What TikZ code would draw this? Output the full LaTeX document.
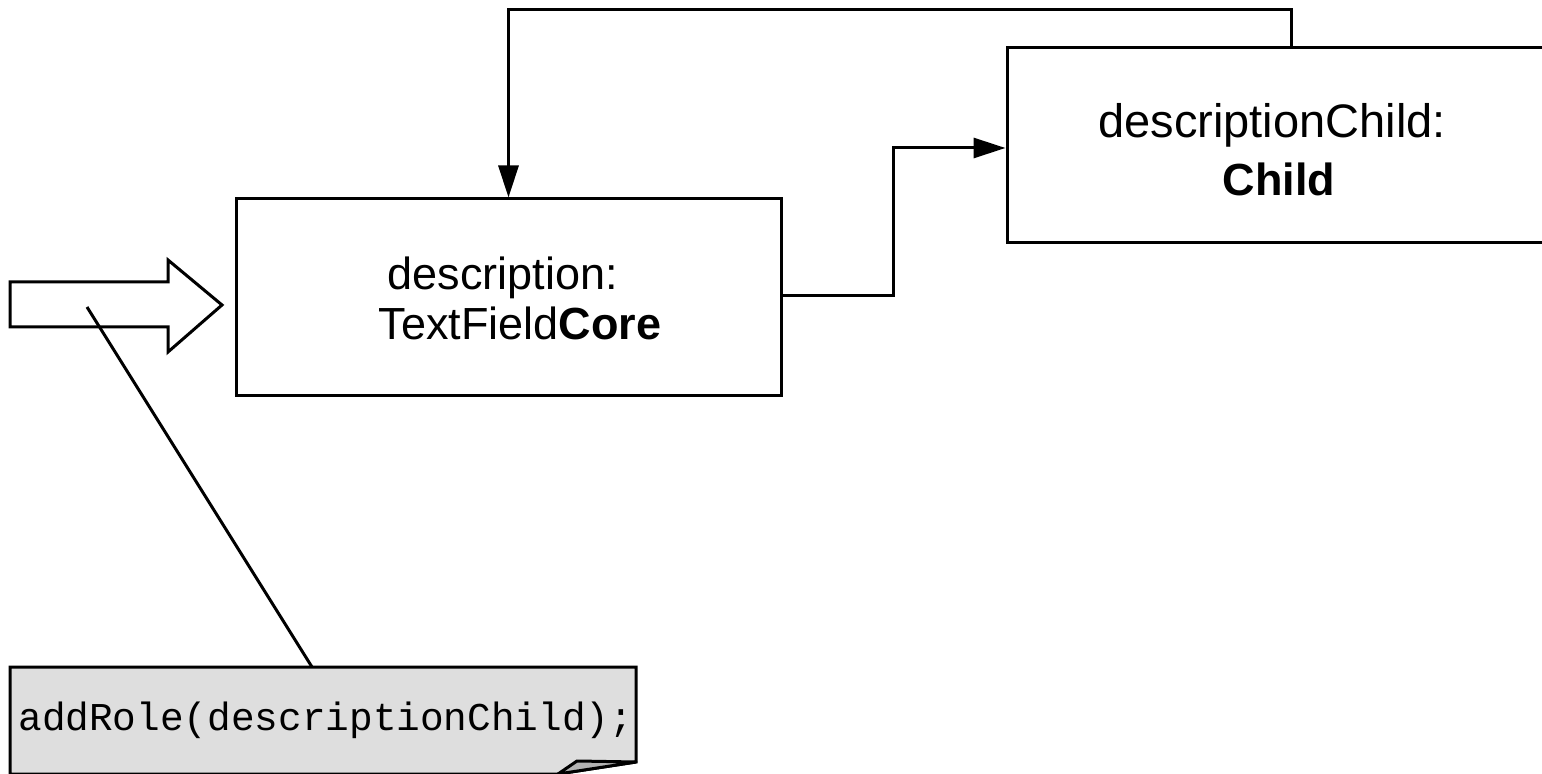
\documentclass[tikz,border=0pt]{standalone}
\usepackage{fontspec}
\setmainfont{Liberation Sans}
\newfontfamily\codefont{Liberation Mono}
\usetikzlibrary{arrows.meta}
\tikzset{
  ln/.style={line width=1.5pt, draw=black},
  boxnode/.style={ln, rectangle, inner sep=0pt},
  lbl/.style={font=\fontsize{22.5}{27}\selectfont, anchor=base, inner sep=0pt},
  arr/.style={ln, -{Triangle[length=16pt,width=10pt]}},
  notefill/.style={fill=black!13},
}
\begin{document}
\begin{tikzpicture}[x=0.5pt,y=-0.5pt]
\useasboundingbox (0,0) rectangle (1542,774);
\clip (0,0) rectangle (1542,774);
% boxes
\node[boxnode, minimum width=272.5pt, minimum height=98.5pt] (desc) at (508.5,297.5) {};
\node[lbl] (d1) at (503,290) {description:};
\node[lbl] (d2) at (520,340) {TextField\textbf{Core}};
\node[boxnode, minimum width=290pt, minimum height=97.5pt] (child) at (1297,145.5) {};
\node[lbl, font=\fontsize{23.5}{28}\selectfont] (c1) at (1272,138) {descriptionChild:};
\node[lbl] (c2) at (1279,196) {\textbf{Child}};
% connectors
\coordinate (fbtop) at (1291,10);
\draw[arr] (child.north -| fbtop) -- (fbtop) -- (fbtop -| desc.north) -- (desc.north);
\coordinate (jx) at (893,296);
\draw[arr] (desc.east |- jx) -- (jx) -- (jx |- 0,148) -- (child.west |- 0,148);
% block arrow
\draw[ln, line join=miter, fill=white] (10,282) -- (168,282) -- (168,260) -- (222,305) -- (168,352) -- (168,327) -- (10,327) -- cycle;
\coordinate (arrpt) at (87,307);
% note
\draw[ln, notefill, line join=miter] (10,667) -- (636,667) -- (636,762) -- (558,774) -- (10,774) -- cycle;
\draw[ln, fill=black!30, line join=round] (558,774) -- (577,761) -- (636,762) -- cycle;
\node[font=\codefont\fontsize{19.7}{24}\selectfont, anchor=base west, inner sep=0pt] (note) at (18,730) {addRole(descriptionChild);};
\coordinate (notetop) at (312,667);
\draw[ln] (notetop) -- (arrpt);
\end{tikzpicture}
\end{document}
